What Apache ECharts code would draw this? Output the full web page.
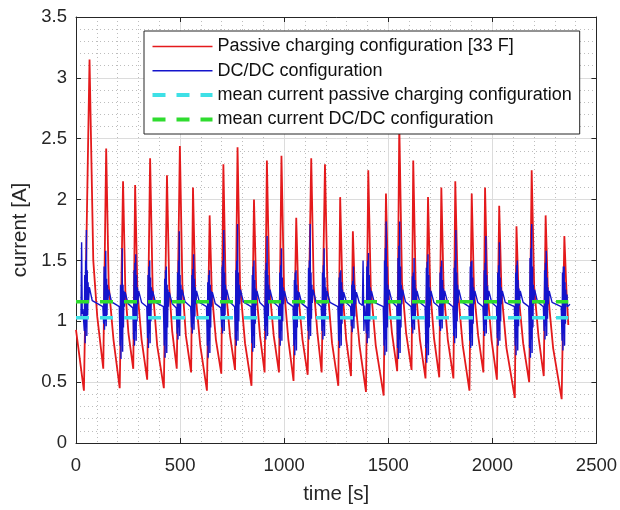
<!DOCTYPE html>
<html>
<head>
<meta charset="utf-8">
<script src="https://cdn.jsdelivr.net/npm/echarts@6/dist/echarts.min.js"></script>
<style>
html,body{margin:0;padding:0;background:#fff;}
#chart{width:620px;height:510px;}
</style>
</head>
<body>
<div id="chart"></div>
<script>
// ---------- data ----------
const seriesNames = [
  'Passive charging configuration [33 F]',
  'DC/DC configuration',
  'mean current passive charging configuration',
  'mean current DC/DC configuration'
];
const xAxisRange = [0, 2500, 500];
const yAxisRange = [0, 3.5, 0.5];

// passive charging current (time [s], current [A])
const redT = [0,38,
  65,83,102,131, 145,157,180,210, 226,237,252,275, 284,295,315,342,
  356,368,390,422, 437,448,462,484, 499,511,528,553, 562,573,597,629,
  642,652,672,698, 708,719,740,764, 776,788,812,843, 855,866,884,906,
  917,929,950,975, 987,999,1020,1045, 1058,1068,1088,1113, 1130,1142,1160,1180,
  1196,1208,1230,1260, 1269,1280,1298,1321, 1330,1340,1362,1393, 1404,1416,1440,1478,
  1489,1500,1518,1543, 1553,1566,1586,1612, 1620,1632,1652,1679, 1691,1702,1720,1745,
  1755,1766,1786,1813, 1822,1834,1858,1890, 1901,1912,1932,1957, 1965,1976,1996,2022,
  2033,2044,2068,2108, 2116,2126,2148,2177, 2189,2201,2222,2247, 2256,2267,2292,2333,
  2346,2356,2365];
const redI = [0.93,0.43,
  3.15,1.50,1.04,0.61, 2.42,1.30,0.85,0.45, 2.15,1.25,0.90,0.61, 2.12,1.25,0.85,0.52,
  2.34,1.28,0.80,0.45, 2.20,1.28,0.92,0.61, 2.44,1.30,0.88,0.58, 2.10,1.25,0.80,0.43,
  1.87,1.25,0.85,0.57, 2.29,1.28,0.88,0.60, 2.43,1.30,0.82,0.47, 2.00,1.25,0.88,0.58,
  2.32,1.28,0.88,0.58, 2.36,1.28,0.85,0.51, 1.85,1.22,0.85,0.56, 2.34,1.28,0.90,0.58,
  2.29,1.28,0.82,0.47, 2.02,1.25,0.85,0.55, 1.74,1.22,0.80,0.42, 2.24,1.28,0.80,0.39,
  2.05,1.25,0.90,0.59, 2.62,1.32,0.90,0.60, 2.32,1.28,0.85,0.53, 2.02,1.25,0.86,0.54,
  2.10,1.26,0.85,0.53, 2.15,1.26,0.80,0.43, 2.05,1.25,0.88,0.58, 2.10,1.26,0.85,0.52,
  1.95,1.24,0.78,0.37, 1.78,1.22,0.82,0.50, 2.24,1.28,0.87,0.55, 1.87,1.24,0.78,0.36,
  1.70,1.25,0.97];

// DC/DC current: burst start times, burst samples (2 s apart), then settling values
const blueStart = [38,131,210,275,342,422,484,553,629,698,764,843,906,975,1045,1113,1180,
  1260,1321,1393,1478,1543,1612,1679,1745,1813,1890,1957,2022,2108,2177,2247,2333];
const blueBurst = [
  [1.10,0.92,1.38,0.82,1.50,0.95,1.75,0.88,1.42,1.05,1.32,1.15],
  [1.12,0.98,1.45,0.93,1.40,1.00,1.58,0.96,1.35,1.05,1.30,1.16],
  [1.12,0.80,1.30,0.69,1.28,0.85,1.60,0.75,1.30,0.95,1.25,1.12],
  [1.12,0.85,1.42,0.80,1.48,0.92,1.55,0.84,1.38,1.00,1.28,1.14],
  [1.12,0.86,1.38,0.78,1.45,0.90,1.50,0.82,1.36,1.00,1.28,1.14],
  [1.12,0.80,1.35,0.70,1.42,0.85,1.45,0.74,1.30,0.95,1.26,1.12],
  [1.12,0.90,1.40,0.85,1.50,0.95,1.74,0.88,1.38,1.02,1.30,1.15],
  [1.12,0.95,1.38,0.90,1.43,0.98,1.55,0.93,1.35,1.04,1.28,1.14],
  [1.12,0.80,1.32,0.70,1.38,0.84,1.42,0.74,1.30,0.95,1.25,1.12],
  [1.12,0.95,1.45,0.90,1.50,1.00,1.75,0.92,1.40,1.05,1.30,1.15],
  [1.12,0.85,1.42,0.80,1.50,0.92,1.80,0.84,1.40,1.00,1.30,1.14],
  [1.12,0.82,1.38,0.75,1.45,0.88,1.50,0.78,1.34,0.98,1.27,1.13],
  [1.12,0.92,1.42,0.85,1.48,0.96,1.70,0.88,1.38,1.02,1.30,1.15],
  [1.12,0.86,1.40,0.80,1.46,0.92,1.60,0.84,1.36,1.00,1.28,1.14],
  [1.12,0.80,1.34,0.72,1.40,0.85,1.42,0.76,1.30,0.95,1.25,1.12],
  [1.12,0.92,1.44,0.85,1.50,0.96,1.80,0.88,1.40,1.02,1.30,1.15],
  [1.12,0.92,1.40,0.85,1.46,0.96,1.60,0.88,1.36,1.02,1.28,1.14],
  [1.12,0.84,1.36,0.78,1.40,0.90,1.42,0.80,1.32,0.98,1.26,1.13],
  [1.12,0.96,1.30,0.91,1.33,1.00,1.45,0.94,1.30,1.04,1.26,1.14],
  [1.12,0.90,1.45,0.82,1.50,0.92,1.56,0.86,1.38,1.00,1.28,1.14],
  [1.12,0.80,1.50,0.72,1.60,0.85,1.82,0.75,1.45,0.95,1.30,1.14],
  [1.12,0.78,1.52,0.69,1.62,0.85,1.82,0.74,1.45,0.95,1.30,1.14],
  [1.12,0.95,1.37,0.90,1.40,0.98,1.52,0.93,1.34,1.04,1.27,1.14],
  [1.12,0.78,1.44,0.66,1.49,0.82,1.55,0.72,1.38,0.95,1.28,1.13],
  [1.12,0.96,1.40,0.92,1.45,1.00,1.50,0.94,1.34,1.04,1.27,1.14],
  [1.12,0.88,1.44,0.82,1.50,0.94,1.75,0.86,1.40,1.00,1.30,1.15],
  [1.12,0.84,1.45,0.78,1.49,0.90,1.50,0.80,1.36,0.98,1.28,1.14],
  [1.12,0.92,1.42,0.88,1.48,0.97,1.70,0.90,1.38,1.03,1.29,1.15],
  [1.12,0.86,1.40,0.80,1.46,0.92,1.65,0.84,1.36,1.00,1.28,1.14],
  [1.12,0.80,1.40,0.72,1.46,0.86,1.50,0.76,1.34,0.96,1.27,1.13],
  [1.12,0.78,1.52,0.70,1.60,0.85,1.80,0.74,1.45,0.95,1.30,1.14],
  [1.12,0.92,1.42,0.85,1.48,0.96,1.58,0.88,1.36,1.02,1.28,1.14],
  [1.12,0.84,1.40,0.76,1.45,0.90,1.45,0.80,1.32,0.98,1.26,1.14]
];
const blueSettle = [1.28,1.26,1.24,1.25,1.25,1.24,1.26,1.25,1.24,1.26,1.26,1.25,1.26,1.25,1.24,1.26,1.25,
  1.24,1.24,1.25,1.26,1.26,1.25,1.25,1.25,1.26,1.25,1.25,1.25,1.25,1.26,1.25,1.22];
const blueLevel = [1.12,1.12,1.11,1.12,1.12,1.11,1.12,1.12,1.11,1.12,1.12,1.12,1.12,1.12,1.11,1.12,1.12,
  1.12,1.12,1.12,1.12,1.12,1.12,1.12,1.12,1.12,1.12,1.12,1.12,1.12,1.12,1.12,1.12];
const blueExtraT = [24,27,30,33, 1376,1379,1383,1387];
const blueExtraI = [1.02,1.65,1.06,1.10, 1.13,1.50,0.92,1.13];
const blueSampleStep = 2;
const blueEndT = 2362;

// mean currents
const meanPassive = 1.03;
const meanDcdc = 1.16;
const meanSpan = [0, 2365];

// ---------- build series ----------
const redData = redT.map((t, i) => [t, redI[i]]);
let blueData = blueExtraT.map((t, i) => [t, blueExtraI[i]]);
blueStart.forEach((s, k) => {
  blueBurst[k].forEach((v, i) => blueData.push([s + i * blueSampleStep, v]));
  const last = s + (blueBurst[k].length - 1) * blueSampleStep;
  blueData.push([last + 4, blueSettle[k]]);
  const nextS = k + 1 < blueStart.length ? blueStart[k + 1] : blueEndT;
  blueData.push([last + 18, (blueSettle[k] + blueLevel[k]) / 2 - 0.03]);
  blueData.push([nextS - 2, blueLevel[k]]);
});
blueData.sort((a, b) => a[0] - b[0]);

const FONT = '"Liberation Sans", Arial, Helvetica, sans-serif';
const INK = '#262626';

const chart = echarts.init(document.getElementById('chart'), null, {renderer: 'canvas'});
const boxAxisX = {
  type: 'value', min: xAxisRange[0], max: xAxisRange[1], interval: xAxisRange[2],
  position: 'top',
  axisLine: {show: true, onZero: false, lineStyle: {color: INK, width: 1}},
  axisTick: {show: true, inside: true, length: 5, lineStyle: {color: INK}},
  axisLabel: {show: false}, splitLine: {show: false}
};
const boxAxisY = {
  type: 'value', min: yAxisRange[0], max: yAxisRange[1], interval: yAxisRange[2],
  position: 'right',
  axisLine: {show: true, onZero: false, lineStyle: {color: INK, width: 1}},
  axisTick: {show: true, inside: true, length: 5, lineStyle: {color: INK}},
  axisLabel: {show: false}, splitLine: {show: false}
};
const dash = [13, 11];
const hidden = {opacity: 0};
const plain = v => String(v);

chart.setOption({
  animation: false,
  backgroundColor: '#ffffff',
  textStyle: {fontFamily: FONT},
  grid: {left: 76, right: 23, top: 17, bottom: 66, containLabel: false},
  legend: {
    orient: 'vertical', left: 144, top: 31,
    itemWidth: 60, itemHeight: 14, itemGap: 6.3,
    padding: [6.5, 8, 5.6, 6.5],
    backgroundColor: '#ffffff', borderColor: INK, borderWidth: 1, borderRadius: 0,
    textStyle: {fontSize: 18, lineHeight: 18, color: '#111111', fontFamily: FONT},
    selectedMode: false,
    data: [
      {name: seriesNames[0], lineStyle: {width: 1.6}, itemStyle: hidden},
      {name: seriesNames[1], lineStyle: {width: 1.4}, itemStyle: hidden},
      {name: seriesNames[2], lineStyle: {width: 4}, itemStyle: hidden},
      {name: seriesNames[3], lineStyle: {width: 4}, itemStyle: hidden}
    ]
  },
  xAxis: [{
    type: 'value', min: xAxisRange[0], max: xAxisRange[1], interval: xAxisRange[2],
    position: 'bottom',
    name: 'time [s]', nameLocation: 'middle', nameGap: 41,
    nameTextStyle: {fontSize: 20.5, color: INK, fontFamily: FONT},
    axisLine: {show: true, onZero: false, lineStyle: {color: INK, width: 1}},
    axisTick: {show: true, inside: true, length: 5, lineStyle: {color: INK}},
    axisLabel: {fontSize: 18.5, color: INK, margin: 13, fontFamily: FONT, formatter: plain},
    splitLine: {show: true, lineStyle: {color: '#dcdcdc', width: 1}},
    minorTick: {show: false, splitNumber: 5},
    minorSplitLine: {show: true, lineStyle: {color: '#bdbdbd', width: 1, type: [1, 3]}}
  }, boxAxisX],
  yAxis: [{
    type: 'value', min: yAxisRange[0], max: yAxisRange[1], interval: yAxisRange[2],
    position: 'left',
    name: 'current [A]', nameLocation: 'middle', nameGap: 43,
    nameTextStyle: {fontSize: 20.5, color: INK, fontFamily: FONT},
    axisLine: {show: true, onZero: false, lineStyle: {color: INK, width: 1}},
    axisTick: {show: true, inside: true, length: 5, lineStyle: {color: INK}},
    axisLabel: {fontSize: 18.5, color: INK, margin: 9, fontFamily: FONT, formatter: plain},
    splitLine: {show: true, lineStyle: {color: '#dcdcdc', width: 1}},
    minorTick: {show: false, splitNumber: 5},
    minorSplitLine: {show: true, lineStyle: {color: '#bdbdbd', width: 1, type: [1, 3]}}
  }, boxAxisY],
  series: [
    {name: seriesNames[0], type: 'line', data: redData, symbol: 'none',
     lineStyle: {color: '#e41a1c', width: 1.8}, itemStyle: {color: '#e41a1c'}, z: 2},
    {name: seriesNames[1], type: 'line', data: blueData, symbol: 'none',
     lineStyle: {color: '#1414cc', width: 1.4}, itemStyle: {color: '#1414cc'}, z: 3},
    {name: seriesNames[2], type: 'line', data: [[meanSpan[0], meanPassive], [meanSpan[1], meanPassive]], symbol: 'none',
     lineStyle: {color: '#3ee0e6', width: 3.5, type: dash}, itemStyle: {color: '#3ee0e6'}, z: 4},
    {name: seriesNames[3], type: 'line', data: [[meanSpan[0], meanDcdc], [meanSpan[1], meanDcdc]], symbol: 'none',
     lineStyle: {color: '#2fdc2f', width: 3.5, type: dash}, itemStyle: {color: '#2fdc2f'}, z: 4}
  ]
});
</script>
</body>
</html>
